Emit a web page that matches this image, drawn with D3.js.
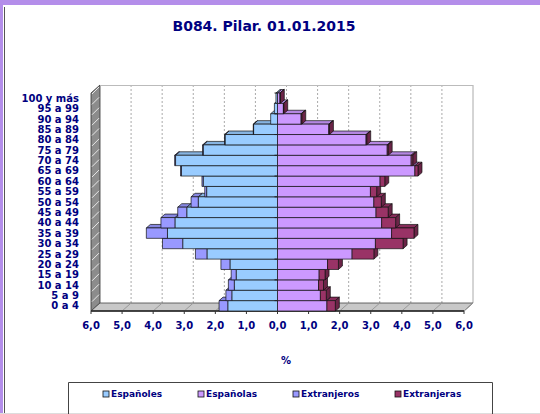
<!DOCTYPE html>
<html>
<head>
<meta charset="utf-8">
<script src="https://cdn.jsdelivr.net/npm/d3@7"></script>
<style>
  html, body { margin: 0; padding: 0; background: #fff; }
  svg { display: block; }
  text { font-family: "DejaVu Sans", Verdana, sans-serif; font-weight: bold; fill: #000080; }
</style>
</head>
<body>
<svg width="540" height="414"></svg>
<script>
// age groups, bottom to top
const ages = ["0 a 4", "5 a 9", "10 a 14", "15 a 19", "20 a 24", "25 a 29", "30 a 34",
  "35 a 39", "40 a 44", "45 a 49", "50 a 54", "55 a 59", "60 a 64", "65 a 69",
  "70 a 74", "75 a 79", "80 a 84", "85 a 89", "90 a 94", "95 a 99", "100 y más"];

// % of total population
const espanoles   = [1.60, 1.47, 1.39, 1.33, 1.53, 2.27, 3.05, 3.54, 3.30, 2.92, 2.55, 2.28, 2.39, 3.09, 3.28, 2.39, 1.69, 0.77, 0.22, 0.10, 0.05];
const extranjeros = [0.28, 0.19, 0.19, 0.16, 0.29, 0.37, 0.65, 0.68, 0.45, 0.29, 0.23, 0.06, 0.04, 0.03, 0.03, 0.02, 0.01, 0.01, 0.00, 0.00, 0.00];
const espanolas   = [1.59, 1.38, 1.32, 1.34, 1.61, 2.40, 3.15, 3.67, 3.35, 3.17, 3.10, 2.99, 3.30, 4.42, 4.30, 3.53, 2.85, 1.65, 0.76, 0.19, 0.08];
const extranjeras = [0.27, 0.19, 0.16, 0.19, 0.35, 0.70, 0.89, 0.72, 0.45, 0.39, 0.24, 0.20, 0.15, 0.10, 0.05, 0.03, 0.02, 0.02, 0.02, 0.01, 0.01];

const xTicks = [-6, -5, -4, -3, -2, -1, 0, 1, 2, 3, 4, 5, 6];
const seriesNames = ["Españoles", "Españolas", "Extranjeros", "Extranjeras"];
const colors = {"Españoles": "#99CCFF", "Españolas": "#CC99FF", "Extranjeros": "#9999FF", "Extranjeras": "#993366"};

const svg = d3.select("svg");

// window frame
svg.append("rect").attr("x", 0).attr("y", 0).attr("width", 540).attr("height", 5).attr("fill", "#B48EEA");
svg.append("rect").attr("x", 0).attr("y", 0).attr("width", 3).attr("height", 414).attr("fill", "#B48EEA");
svg.append("line").attr("x1", 4.5).attr("x2", 4.5).attr("y1", 7).attr("y2", 414).attr("stroke", "#555");
svg.append("line").attr("x1", 0).attr("x2", 540).attr("y1", 413.5).attr("y2", 413.5).attr("stroke", "#ddd");

svg.append("text").attr("x", 264).attr("y", 31).attr("text-anchor", "middle")
  .style("font-size", "14px").text("B084. Pilar. 01.01.2015");

// front plane scales + depth offset for the 3d look
const x = d3.scaleLinear().domain([-6, 6]).range([91, 464]);
const y = d3.scaleBand().domain(ages.slice().reverse()).range([93, 311]).padding(0);
const DX = 9, DY = -8;     // wall depth
const bx = 4, by = -3.5;   // bar depth
const top0 = 93, bottom0 = 311;

const g = svg.append("g");

// left wall
g.append("polygon")
  .attr("points", [[x(-6), top0], [x(-6) + DX, top0 + DY], [x(-6) + DX, bottom0 + DY], [x(-6), bottom0]].join(" "))
  .attr("fill", "#8c8c8c").attr("stroke", "#333").attr("stroke-width", 0.8);
ages.forEach(a => {
  const yy = y(a);
  g.append("line").attr("x1", x(-6) + 1).attr("y1", yy + 1).attr("x2", x(-6) + DX - 1).attr("y2", yy + DY + 2)
    .attr("stroke", "#e8e8e8").attr("stroke-width", 1);
});

// back wall gridlines
xTicks.forEach(v => {
  if (v === -6) return;
  g.append("line").attr("x1", x(v) + DX).attr("x2", x(v) + DX).attr("y1", top0 + DY).attr("y2", bottom0 + DY)
    .attr("stroke", "#aaa").attr("stroke-dasharray", v === 6 ? null : "2,2");
});
g.append("line").attr("x1", x(-6) + DX).attr("x2", x(6) + DX).attr("y1", top0 + DY + 0.5).attr("y2", top0 + DY + 0.5)
  .attr("stroke", "#bbb");

// floor
g.append("polygon")
  .attr("points", [[x(-6), bottom0], [x(6), bottom0], [x(6) + DX, bottom0 + DY], [x(-6) + DX, bottom0 + DY]].join(" "))
  .attr("fill", "#c8c8c8").attr("stroke", "#444").attr("stroke-width", 0.8);
xTicks.forEach(v => {
  if (v === -6) return;
  g.append("line").attr("x1", x(v)).attr("y1", bottom0).attr("x2", x(v) + DX).attr("y2", bottom0 + DY)
    .attr("stroke", "#999");
});
g.append("line").attr("x1", x(-6)).attr("x2", x(6)).attr("y1", bottom0).attr("y2", bottom0)
  .attr("stroke", "#222").attr("stroke-width", 1.5);

// x ticks and labels
xTicks.forEach(v => {
  g.append("line").attr("x1", x(v)).attr("x2", x(v)).attr("y1", bottom0).attr("y2", bottom0 + 3).attr("stroke", "#333");
  g.append("text").attr("x", x(v)).attr("y", 329).attr("text-anchor", "middle")
    .style("font-size", "10px").text(Math.abs(v).toFixed(1).replace(".", ","));
});

// y labels
ages.forEach(a => {
  g.append("text").attr("x", 79).attr("y", y(a) + y.bandwidth() / 2).attr("dy", "0.36em")
    .attr("text-anchor", "end").style("font-size", "10px").text(a);
});

svg.append("text").attr("x", 286).attr("y", 364).attr("text-anchor", "middle").style("font-size", "10px").text("%");

// bars: segments per row
const segs = ages.map((a, i) => ({
  age: a,
  left: [
    {name: "Españoles", x0: -espanoles[i], x1: 0},
    {name: "Extranjeros", x0: -(espanoles[i] + extranjeros[i]), x1: -espanoles[i]}
  ],
  right: [
    {name: "Españolas", x0: 0, x1: espanolas[i]},
    {name: "Extranjeras", x0: espanolas[i], x1: espanolas[i] + extranjeras[i]}
  ]
}));

const bars = svg.append("g").attr("stroke", "#111").attr("stroke-width", 0.7).attr("stroke-linejoin", "round");
const h = y.bandwidth();

// depth faces first (top and side), then front faces
segs.forEach(r => {
  const y0 = y(r.age);
  r.left.concat(r.right).forEach(s => {
    if (s.x1 - s.x0 <= 0) return;
    const a = x(s.x0), b = x(s.x1);
    bars.append("polygon")
      .attr("points", [[a, y0], [b, y0], [b + bx, y0 + by], [a + bx, y0 + by]].join(" "))
      .attr("fill", d3.color(colors[s.name]).darker(0.35));
  });
  const outer = r.right[1].x1 > r.right[1].x0 ? r.right[1] : r.right[0];
  const e = x(outer.x1);
  bars.append("polygon")
    .attr("points", [[e, y0], [e + bx, y0 + by], [e + bx, y0 + h + by], [e, y0 + h]].join(" "))
    .attr("fill", d3.color(colors[outer.name]).darker(1));
});
segs.forEach(r => {
  const y0 = y(r.age);
  r.left.concat(r.right).forEach(s => {
    if (s.x1 - s.x0 <= 0) return;
    bars.append("rect").attr("x", x(s.x0)).attr("y", y0).attr("width", x(s.x1) - x(s.x0)).attr("height", h)
      .attr("fill", colors[s.name]);
  });
});

// category axis ticks at zero
ages.forEach((a, i) => {
  if (i % 2) return;
  svg.append("line").attr("x1", x(0) - 3).attr("x2", x(0)).attr("y1", y(a)).attr("y2", y(a))
    .attr("stroke", "#222");
});

// legend
const lg = svg.append("g");
lg.append("path").attr("d", "M68.5,416 V382.5 H492.5 V416").attr("fill", "none").attr("stroke", "#444");
const legX = [103, 198, 293, 395];
seriesNames.forEach((n, i) => {
  lg.append("rect").attr("x", legX[i]).attr("y", 391).attr("width", 6).attr("height", 6)
    .attr("fill", colors[n]).attr("stroke", "#111").attr("stroke-width", 0.8);
  lg.append("text").attr("x", legX[i] + 8).attr("y", 394).attr("dy", "0.36em")
    .style("font-size", "9px").text(n);
});
</script>
</body>
</html>
